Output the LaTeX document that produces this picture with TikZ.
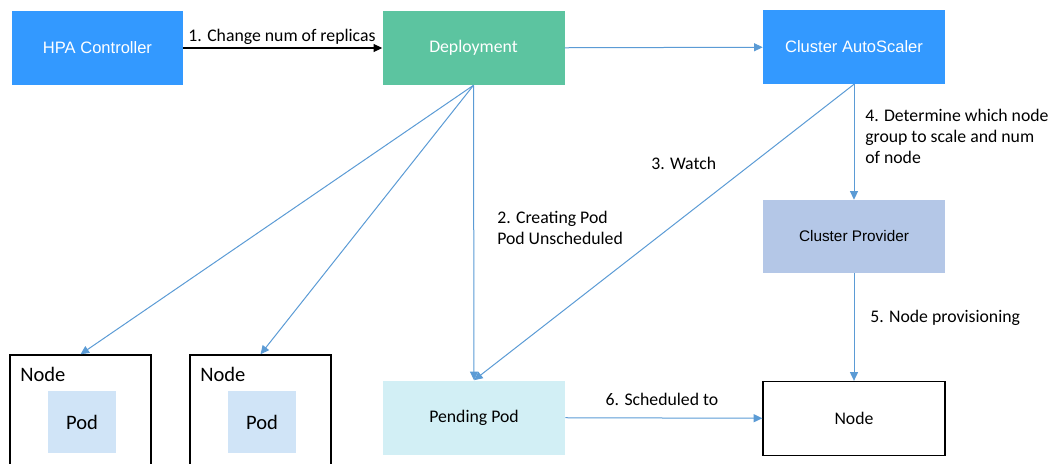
\documentclass[tikz,border=0pt]{standalone}
\usepackage{fontspec}
\setmainfont{Carlito}
\newfontfamily\arialfont{Liberation Sans}
\usetikzlibrary{arrows.meta,positioning}
\definecolor{hpablue}{HTML}{3399FF}
\definecolor{depgreen}{HTML}{5CC4A0}
\definecolor{provblue}{HTML}{B4C7E7}
\definecolor{pendcyan}{HTML}{D2EFF5}
\definecolor{podblue}{HTML}{D0E4F7}
\definecolor{linkblue}{HTML}{5B9BD5}

\begin{document}
\begin{tikzpicture}[x=0.75pt, y=-0.75pt, >={Triangle[length=6.5pt,width=6pt]},
    box/.style={minimum width=136.5pt, minimum height=55.5pt, inner sep=0pt},
    bluebox/.style={box, fill=hpablue, text=white, font=\arialfont\fontsize{12.4}{15}\selectfont},
    nodebox/.style={draw=black, line width=1pt, minimum width=105.75pt, minimum height=90pt, inner sep=0pt},
    podbox/.style={fill=podblue, minimum width=51pt, minimum height=46.5pt, inner sep=0pt, font=\fontsize{15.4}{18}\selectfont},
    link/.style={->, draw=linkblue, line width=0.75pt},
    lbl/.style={inner sep=0pt, font=\fontsize{13.3}{15.8}\selectfont}]
    \useasboundingbox (0,0) rectangle (1050,464);

    % Top row
    \node[bluebox, minimum width=128.25pt] (hpa) at (97.5,48) {HPA Controller};
    \node[box, fill=depgreen, text=white, font=\fontsize{13.3}{16}\selectfont] (dep) at (473.5,48) {Deployment};
    \node[bluebox] (cas) at (854,47) {Cluster AutoScaler};
    \node[box, fill=provblue, minimum height=54.75pt, font=\arialfont\fontsize{11.5}{14}\selectfont] (prov) at (854,236.5) {Cluster Provider};

    % Nodes holding pods
    \node[nodebox] (node1) at (80.5,415) {};
    \node[anchor=west, inner sep=0pt, font=\fontsize{15.4}{18}\selectfont] (node1lbl) at (20,374) {Node};
    \node[podbox] (pod1) at (82,422) {Pod};
    \node[nodebox] (node2) at (260.5,415) {};
    \node[anchor=west, inner sep=0pt, font=\fontsize{15.4}{18}\selectfont] (node2lbl) at (200,374) {Node};
    \node[podbox] (pod2) at (262,422) {Pod};

    % Bottom row
    \node[box, fill=pendcyan, font=\fontsize{13.3}{16}\selectfont] (pend) at (474,417.5) {Pending Pod};
    \node[box, draw=black, line width=1pt, font=\fontsize{13.3}{16}\selectfont] (newnode) at (854,418.5) {Node};

    % Connectors
    \draw[->, line width=0.8pt] (hpa) -- (dep);
    \draw[link] (dep) -- (cas);
    \draw[link] (dep.south) -- (node1.north);
    \draw[link] (dep.south) -- (node2.north);
    \draw[link] (dep.south) -- (pend.north);
    \draw[link] (cas.south) -- (pend.north);
    \draw[link] (cas) -- (prov);
    \draw[link] (prov) -- (newnode);
    \draw[link] (pend) -- (newnode);

    % Step labels
    \node[lbl] (step1) at (282,37) {1. Change num of replicas};
    \node[lbl, anchor=west, align=left] (step2) at (497,227.5) {2. Creating Pod\\Pod Unscheduled};
    \node[lbl, anchor=west] (step3) at (651,163) {3. Watch};
    \node[lbl, anchor=west, align=left] (step4) at (865,136) {4. Determine which node\\group to scale and num\\of node};
    \node[lbl, anchor=west] (step5) at (870,318) {5. Node provisioning};
    \node[lbl] (step6) at (662,399) {6. Scheduled to};
\end{tikzpicture}
\end{document}
